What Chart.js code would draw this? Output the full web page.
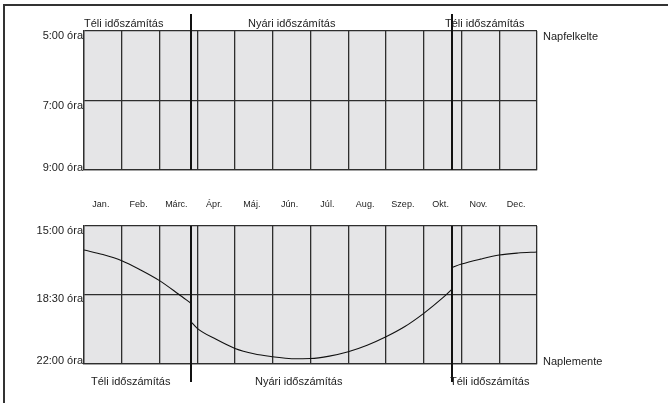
<!DOCTYPE html>
<html>
<head>
<meta charset="utf-8">
<script src="https://cdn.jsdelivr.net/npm/chart.js@4.4.0/dist/chart.umd.min.js"></script>
<style>
body { margin: 0; background: #fff; }
#wrap { position: relative; width: 668px; height: 403px; overflow: hidden; }
#frame { position: absolute; left: 3px; top: 4px; width: 700px; height: 500px; border-top: 2px solid #333; border-left: 2px solid #333; }
canvas { position: absolute; left: 0; top: 0; }
</style>
</head>
<body>
<div id="wrap">
	<div id="frame"></div>
	<canvas id="sunrise" width="668" height="403"></canvas>
	<canvas id="sunset" width="668" height="403"></canvas>
</div>
<script>
var months = ["Jan.", "Feb.", "Márc.", "Ápr.", "Máj.", "Jún.", "Júl.", "Aug.", "Szep.", "Okt.", "Nov.", "Dec."];
var zones = ["Téli időszámítás", "Nyári időszámítás", "Téli időszámítás"];

var sunriseTicks = [5, 7, 9];
var sunriseTickLabels = ["5:00 óra", "7:00 óra", "9:00 óra"];
var sunsetTicks = [15, 18.5, 22];
var sunsetTickLabels = ["15:00 óra", "18:30 óra", "22:00 óra"];

// daylight saving switch, in months from Jan 1
var dstStart = 2.83;
var dstEnd = 9.75;

// sunset, x = months from Jan 1, y = hour of day
var winter1X = [0, 0.5, 1, 1.5, 2, 2.5, 2.83];
var winter1Y = [16.22, 16.45, 16.76, 17.23, 17.77, 18.45, 18.92];
var summerX = [2.83, 3, 3.5, 4, 4.5, 5, 5.5, 6, 6.5, 7, 7.5, 8, 8.5, 9, 9.5, 9.75];
var summerY = [19.85, 20.19, 20.75, 21.21, 21.48, 21.63, 21.73, 21.72, 21.6, 21.38, 21.05, 20.62, 20.1, 19.43, 18.65, 18.2];
var winter2X = [9.75, 10, 10.5, 11, 11.5, 12];
var winter2Y = [17.1, 16.93, 16.68, 16.47, 16.37, 16.32];

var FONT = '"Liberation Sans", Arial, sans-serif';
var INK = "#222";
var GRID = "#2e2e2e";

Chart.defaults.font.family = FONT;

function toPoints(xs, ys) {
	return xs.map(function (x, i) {
		return { x: x, y: ys[i] };
	});
}

function curve(xs, ys) {
	return {
		data: toPoints(xs, ys),
		borderColor: "#111",
		borderWidth: 1.1,
		pointRadius: 0,
		cubicInterpolationMode: "monotone",
		fill: false,
	};
}

function panelPlugin(opt) {
	return {
		id: "panel",
		beforeDraw: function (chart) {
			var a = chart.chartArea;
			var ctx = chart.ctx;
			ctx.save();
			ctx.fillStyle = "#e5e5e7";
			ctx.fillRect(a.left, a.top, a.right - a.left, a.bottom - a.top);
			ctx.restore();
		},
		afterDraw: function (chart) {
			var a = chart.chartArea;
			var ctx = chart.ctx;
			var xs = chart.scales.x;
			var ys = chart.scales.y;
			ctx.save();

			// time change lines
			ctx.strokeStyle = "#111";
			ctx.lineWidth = 2;
			[dstStart, dstEnd].forEach(function (m) {
				var px = Math.round(xs.getPixelForValue(m));
				ctx.beginPath();
				ctx.moveTo(px, a.top - opt.above);
				ctx.lineTo(px, a.bottom + opt.below);
				ctx.stroke();
			});

			ctx.fillStyle = INK;
			ctx.font = "11px " + FONT;
			ctx.textBaseline = "middle";

			// y tick labels
			ctx.textAlign = "right";
			opt.ticks.forEach(function (v, i) {
				ctx.fillText(opt.tickLabels[i], a.left - 1, ys.getPixelForValue(v) + opt.tickShift[i]);
			});

			// side caption
			ctx.textAlign = "left";
			ctx.fillText(opt.side, a.right + 6, opt.sideY);

			// time zone captions
			zones.forEach(function (z, i) {
				ctx.fillText(z, a.left + opt.zoneX[i], opt.zoneY);
			});

			// month names
			if (opt.months) {
				ctx.font = "9px " + FONT;
				ctx.textAlign = "center";
				months.forEach(function (m, i) {
					ctx.fillText(m, xs.getPixelForValue(i + 0.5) - 2, opt.monthY);
				});
			}
			ctx.restore();
		},
	};
}

function makePanel(id, datasets, yMin, yMax, step, padding, opt) {
	return new Chart(document.getElementById(id), {
		type: "line",
		data: { datasets: datasets },
		options: {
			responsive: false,
			animation: false,
			events: [],
			layout: { padding: padding },
			plugins: { legend: { display: false }, tooltip: { enabled: false } },
			scales: {
				x: {
					type: "linear",
					min: 0,
					max: 12,
					ticks: { display: false, stepSize: 1 },
					grid: { color: GRID, lineWidth: 1.3, drawTicks: false },
					border: { color: GRID, width: 1.3 },
				},
				y: {
					type: "linear",
					reverse: true,
					min: yMin,
					max: yMax,
					ticks: { display: false, stepSize: step },
					grid: { color: GRID, lineWidth: 1.3, drawTicks: false },
					border: { color: GRID, width: 1.3 },
				},
			},
		},
		plugins: [panelPlugin(opt)],
	});
}

makePanel("sunrise", [], 5, 9, 2,
	{ left: 84, top: 31, right: 131, bottom: 233 },
	{
		above: 17, below: 0,
		ticks: sunriseTicks, tickLabels: sunriseTickLabels, tickShift: [5, 5, -2],
		side: "Napfelkelte", sideY: 37,
		zoneX: [0, 164, 361], zoneY: 24,
	});

makePanel("sunset", [
		curve(winter1X, winter1Y),
		curve(summerX, summerY),
		curve(winter2X, winter2Y),
	], 15, 22, 3.5,
	{ left: 84, top: 226, right: 131, bottom: 39 },
	{
		above: 0, below: 18,
		ticks: sunsetTicks, tickLabels: sunsetTickLabels, tickShift: [5, 4, -3],
		side: "Naplemente", sideY: 362,
		zoneX: [7, 171, 366], zoneY: 382,
		months: true, monthY: 205,
	});
</script>
</body>
</html>
